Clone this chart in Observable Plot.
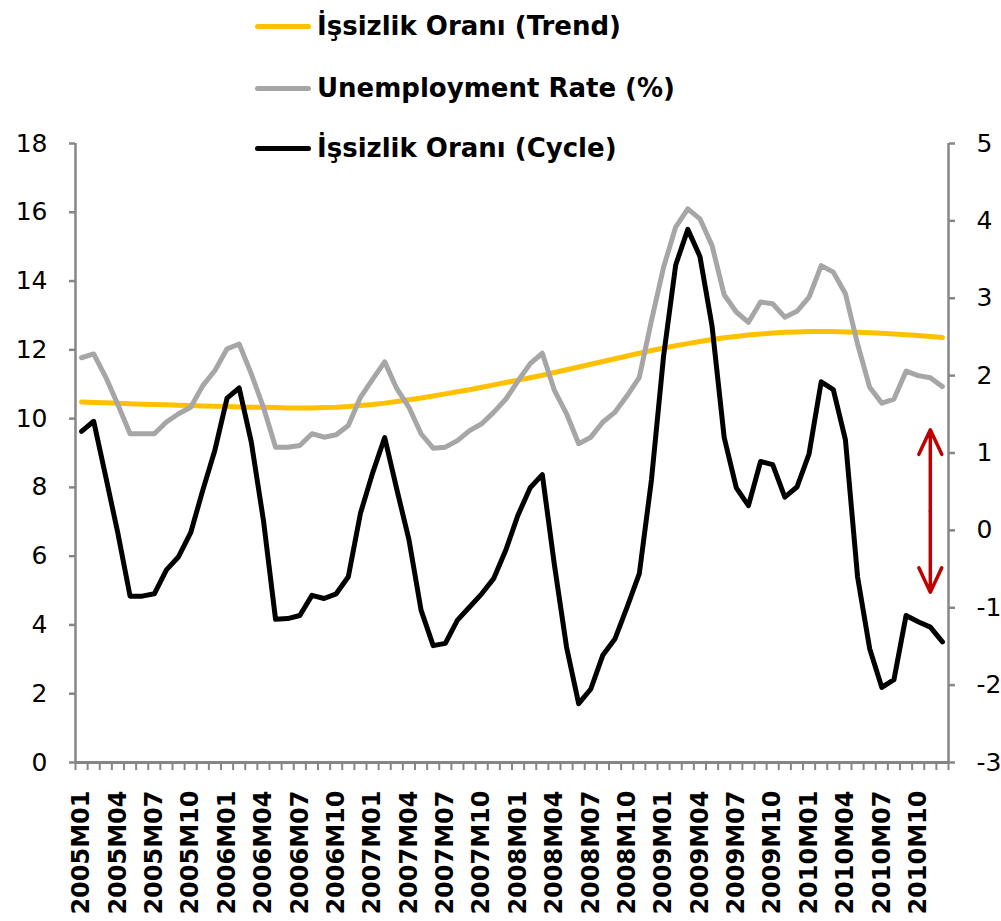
<!DOCTYPE html>
<html><head><meta charset="utf-8">
<script src="https://cdn.jsdelivr.net/npm/d3@7"></script>
<script src="https://cdn.jsdelivr.net/npm/@observablehq/plot@0.6"></script>
<style>
body{margin:0;background:#fff;}
#wrap{position:relative;width:1001px;height:921px;overflow:hidden;}
#legend{position:absolute;left:255px;top:0;font-family:"DejaVu Sans";font-weight:bold;font-size:26px;color:#000;}
.row{position:absolute;left:0;white-space:nowrap;display:flex;align-items:center;height:40px;}
.sw{width:56px;height:5px;border-radius:3px;margin-right:6px;}
</style></head>
<body><div id="wrap"><div id="chart"></div><div id="legend"></div></div>
<script>
// Categories: monthly 2005M01 .. 2010M12
const years = [2005, 2006, 2007, 2008, 2009, 2010];
const monthNums = ["01","02","03","04","05","06","07","08","09","10","11","12"];
const months = years.flatMap(y => monthNums.map(m => `${y}M${m}`));

// Series names
const seriesNames = ["İşsizlik Oranı (Trend)", "Unemployment Rate (%)", "İşsizlik Oranı (Cycle)"];
const seriesColors = ["#ffc000", "#a6a6a6", "#000000"];

// İşsizlik Oranı (Trend) — left axis
const trend = [
  10.48,10.47,10.46,10.45,10.43,10.42,10.41,10.40,10.39,10.38,10.37,10.36,
  10.35,10.34,10.33,10.33,10.32,10.31,10.31,10.31,10.32,10.33,10.35,10.38,
  10.41,10.45,10.50,10.55,10.60,10.66,10.72,10.78,10.84,10.91,10.98,11.05,
  11.12,11.19,11.26,11.34,11.42,11.50,11.58,11.66,11.74,11.82,11.90,11.98,
  12.05,12.12,12.18,12.24,12.30,12.35,12.39,12.43,12.46,12.49,12.51,12.52,
  12.53,12.53,12.53,12.52,12.51,12.50,12.48,12.46,12.44,12.42,12.39,12.36
];

// Unemployment Rate (%) — left axis
const unemployment = [
  11.77,11.88,11.20,10.40,9.56,9.56,9.56,9.90,10.14,10.33,10.96,11.40,
  12.03,12.17,11.30,10.33,9.17,9.17,9.22,9.56,9.46,9.53,9.80,10.62,
  11.14,11.65,10.87,10.33,9.56,9.14,9.17,9.36,9.65,9.85,10.19,10.57,
  11.10,11.60,11.90,10.82,10.14,9.27,9.46,9.90,10.19,10.67,11.20,12.85,
  14.40,15.57,16.10,15.81,15.03,13.60,13.10,12.80,13.39,13.34,12.95,13.12,
  13.53,14.45,14.26,13.63,12.17,10.91,10.45,10.57,11.38,11.25,11.19,10.93
];

// İşsizlik Oranı (Cycle) — right axis
const cycle = [
  1.28,1.41,0.69,-0.04,-0.85,-0.85,-0.82,-0.51,-0.34,-0.03,0.52,1.04,
  1.71,1.84,1.14,0.13,-1.15,-1.14,-1.10,-0.84,-0.88,-0.82,-0.60,0.22,
  0.74,1.20,0.53,-0.12,-1.03,-1.49,-1.46,-1.16,-0.99,-0.82,-0.62,-0.25,
  0.20,0.55,0.72,-0.45,-1.51,-2.24,-2.05,-1.61,-1.40,-0.99,-0.56,0.65,
  2.25,3.43,3.89,3.54,2.64,1.20,0.55,0.32,0.89,0.85,0.43,0.56,
  0.99,1.92,1.82,1.17,-0.60,-1.53,-2.03,-1.93,-1.10,-1.18,-1.25,-1.44
];

// Axis ticks
const leftTicks = [0, 2, 4, 6, 8, 10, 12, 14, 16, 18];
const rightTicks = [-3, -2, -1, 0, 1, 2, 3, 4, 5];
const labelEvery = 3;

// Annotation: red double-headed arrow (month, right-axis from/to)
const arrowMonth = ["2010M11"];
const arrowRange = [-0.8, 1.3];

// Right axis [-3,5] mapped onto left axis [0,18]
const leftDom = [0, 18], rightDom = [-3, 5];
const k = (leftDom[1] - leftDom[0]) / (rightDom[1] - rightDom[0]);
const toLeft = c => (c - rightDom[0]) * k + leftDom[0];

const idx = m => months.indexOf(m);
const ax = idx(arrowMonth[0]);
const mid = (arrowRange[0] + arrowRange[1]) / 2;

const gray = "#868686";

const chart = Plot.plot({
  width: 1001, height: 921,
  marginLeft: 75, marginRight: 53, marginTop: 143, marginBottom: 159,
  style: {fontFamily: "DejaVu Sans", fontSize: "25px", color: "#000", background: "#fff", overflow: "visible"},
  x: {domain: [-0.5, months.length - 0.5]},
  y: {domain: leftDom},
  marks: [
    Plot.axisY(leftTicks, {anchor: "left", tickSize: 6, tickPadding: 22, stroke: gray, strokeWidth: 2.5, fill: "#000", label: null}),
    Plot.axisY(rightTicks.map(toLeft), {anchor: "right", tickSize: 6, tickPadding: 22, stroke: gray, strokeWidth: 2.5, fill: "#000", label: null,
      tickFormat: d => String(Math.round((d - leftDom[0]) / k + rightDom[0]))}),
    Plot.axisX(d3.range(-0.5, months.length, 1), {anchor: "bottom", tickSize: 8, stroke: gray, strokeWidth: 2, tickFormat: () => "", label: null}),
    Plot.axisX(d3.range(0, months.length, labelEvery), {anchor: "bottom", tickSize: 0, tickPadding: 28, tickRotate: -90,
      fontWeight: "bold", fontSize: 24, fill: "#000", tickFormat: i => months[i], label: null}),
    Plot.ruleY([leftDom[0]], {stroke: gray, strokeWidth: 3}),
    Plot.ruleX([-0.5, months.length - 0.5], {y1: leftDom[0], y2: leftDom[1], stroke: gray, strokeWidth: 2.5}),
    Plot.line(trend, {x: (d, i) => i, y: d => d, stroke: seriesColors[0], strokeWidth: 5}),
    Plot.line(unemployment, {x: (d, i) => i, y: d => d, stroke: seriesColors[1], strokeWidth: 5}),
    Plot.line(cycle, {x: (d, i) => i, y: d => toLeft(d), stroke: seriesColors[2], strokeWidth: 5}),
    Plot.arrow(arrowRange, {x1: () => ax, x2: () => ax, y1: () => toLeft(mid), y2: d => toLeft(d),
      stroke: "#c00000", strokeWidth: 3.5, headLength: 15, headAngle: 50})
  ]
});
document.getElementById("chart").appendChild(chart);

// Legend
const legend = document.getElementById("legend");
const rowTops = [6, 68, 128];
seriesNames.forEach((name, i) => {
  const row = document.createElement("div");
  row.className = "row";
  row.style.top = rowTops[i] + "px";
  const sw = document.createElement("span");
  sw.className = "sw";
  sw.style.background = seriesColors[i];
  const tx = document.createElement("span");
  tx.textContent = name;
  row.appendChild(sw); row.appendChild(tx);
  legend.appendChild(row);
});
</script>
</body></html>
